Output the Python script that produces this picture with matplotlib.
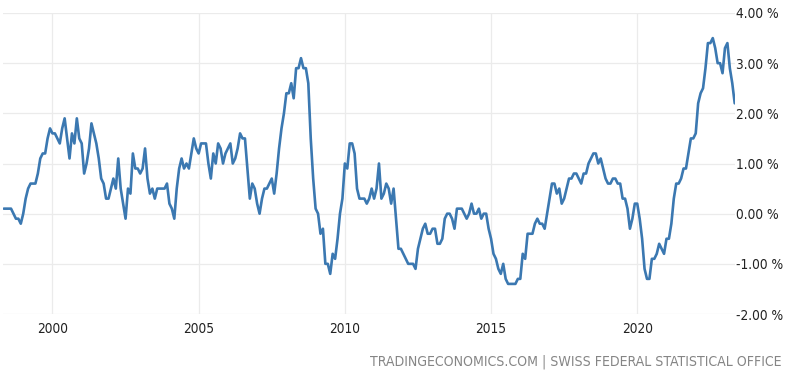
import matplotlib
matplotlib.use("Agg")
import matplotlib.pyplot as plt
from matplotlib import font_manager as fm
import numpy as np

# Swiss CPI inflation rate (YoY, %), monthly, May 1998 .. May 2023
start_year, start_month = 1998, 5
cpi_1998 = [0.1, 0.1, 0.1, 0.1, 0.0, -0.1, -0.1, -0.2]
cpi_1999 = [0.0, 0.3, 0.5, 0.6, 0.6, 0.6, 0.8, 1.1, 1.2, 1.2, 1.5, 1.7]
cpi_2000 = [1.6, 1.6, 1.5, 1.4, 1.7, 1.9, 1.5, 1.1, 1.6, 1.4, 1.9, 1.5]
cpi_2001 = [1.4, 0.8, 1.0, 1.3, 1.8, 1.6, 1.4, 1.1, 0.7, 0.6, 0.3, 0.3]
cpi_2002 = [0.5, 0.7, 0.5, 1.1, 0.5, 0.2, -0.1, 0.5, 0.4, 1.2, 0.9, 0.9]
cpi_2003 = [0.8, 0.9, 1.3, 0.7, 0.4, 0.5, 0.3, 0.5, 0.5, 0.5, 0.5, 0.6]
cpi_2004 = [0.2, 0.1, -0.1, 0.5, 0.9, 1.1, 0.9, 1.0, 0.9, 1.2, 1.5, 1.3]
cpi_2005 = [1.2, 1.4, 1.4, 1.4, 1.0, 0.7, 1.2, 1.0, 1.4, 1.3, 1.0, 1.2]
cpi_2006 = [1.3, 1.4, 1.0, 1.1, 1.3, 1.6, 1.5, 1.5, 0.9, 0.3, 0.6, 0.5]
cpi_2007 = [0.2, 0.0, 0.3, 0.5, 0.5, 0.6, 0.7, 0.4, 0.8, 1.3, 1.7, 2.0]
cpi_2008 = [2.4, 2.4, 2.6, 2.3, 2.9, 2.9, 3.1, 2.9, 2.9, 2.6, 1.5, 0.7]
cpi_2009 = [0.1, 0.0, -0.4, -0.3, -1.0, -1.0, -1.2, -0.8, -0.9, -0.5, 0.0, 0.3]
cpi_2010 = [1.0, 0.9, 1.4, 1.4, 1.2, 0.5, 0.3, 0.3, 0.3, 0.2, 0.3, 0.5]
cpi_2011 = [0.3, 0.5, 1.0, 0.3, 0.4, 0.6, 0.5, 0.2, 0.5, -0.1, -0.7, -0.7]
cpi_2012 = [-0.8, -0.9, -1.0, -1.0, -1.0, -1.1, -0.7, -0.5, -0.3, -0.2, -0.4, -0.4]
cpi_2013 = [-0.3, -0.3, -0.6, -0.6, -0.5, -0.1, 0.0, 0.0, -0.1, -0.3, 0.1, 0.1]
cpi_2014 = [0.1, 0.0, -0.1, 0.0, 0.2, 0.0, 0.0, 0.1, -0.1, 0.0, 0.0, -0.3]
cpi_2015 = [-0.5, -0.8, -0.9, -1.1, -1.2, -1.0, -1.3, -1.4, -1.4, -1.4, -1.4, -1.3]
cpi_2016 = [-1.3, -0.8, -0.9, -0.4, -0.4, -0.4, -0.2, -0.1, -0.2, -0.2, -0.3, 0.0]
cpi_2017 = [0.3, 0.6, 0.6, 0.4, 0.5, 0.2, 0.3, 0.5, 0.7, 0.7, 0.8, 0.8]
cpi_2018 = [0.7, 0.6, 0.8, 0.8, 1.0, 1.1, 1.2, 1.2, 1.0, 1.1, 0.9, 0.7]
cpi_2019 = [0.6, 0.6, 0.7, 0.7, 0.6, 0.6, 0.3, 0.3, 0.1, -0.3, -0.1, 0.2]
cpi_2020 = [0.2, -0.1, -0.5, -1.1, -1.3, -1.3, -0.9, -0.9, -0.8, -0.6, -0.7, -0.8]
cpi_2021 = [-0.5, -0.5, -0.2, 0.3, 0.6, 0.6, 0.7, 0.9, 0.9, 1.2, 1.5, 1.5]
cpi_2022 = [1.6, 2.2, 2.4, 2.5, 2.9, 3.4, 3.4, 3.5, 3.3, 3.0, 3.0, 2.8]
cpi_2023 = [3.3, 3.4, 2.9, 2.6, 2.2]

year_ticks = [2000, 2005, 2010, 2015, 2020]
y_ticks = [-2, -1, 0, 1, 2, 3, 4]
source_text = "TRADINGECONOMICS.COM | SWISS FEDERAL STATISTICAL OFFICE"

values = np.array(cpi_1998 + cpi_1999 + cpi_2000 + cpi_2001 + cpi_2002 + cpi_2003 +
                  cpi_2004 + cpi_2005 + cpi_2006 + cpi_2007 + cpi_2008 + cpi_2009 +
                  cpi_2010 + cpi_2011 + cpi_2012 + cpi_2013 + cpi_2014 + cpi_2015 +
                  cpi_2016 + cpi_2017 + cpi_2018 + cpi_2019 + cpi_2020 + cpi_2021 +
                  cpi_2022 + cpi_2023)
t = start_year + (start_month - 1 + np.arange(len(values))) / 12.0


def pick_font():
    """Choose a condensed sans-serif if one is installed."""
    for fam, stretch in [("Liberation Sans Narrow", "normal"),
                         ("DejaVu Sans", "condensed"),
                         ("Roboto Condensed", "normal"),
                         ("Open Sans", "condensed")]:
        try:
            p = fm.findfont(fm.FontProperties(family=fam, stretch=stretch),
                            fallback_to_default=False)
        except Exception:
            continue
        low = p.lower()
        if "narrow" in low or "condensed" in low:
            return fam, stretch
    return "DejaVu Sans", "normal"


FAM, STRETCH = pick_font()

W, H = 803, 377
fig = plt.figure(figsize=(W / 100, H / 100), dpi=100)
left, right, top, bottom = 3, 735, 13, 314
ax = fig.add_axes([left / W, 1 - bottom / H, (right - left) / W, (bottom - top) / H])

ax.plot(t, values, color="#3b78b1", linewidth=1.9, solid_joinstyle="round",
        solid_capstyle="round", zorder=3)

ax.set_xlim(t[0] - 0.025, t[-1] + 0.01)
ax.set_ylim(-2, 4)

ax.set_xticks(year_ticks)
ax.set_xticklabels([str(y) for y in year_ticks])
ax.set_yticks(y_ticks)
ax.set_yticklabels([f"{v:.2f} %" for v in y_ticks])
ax.yaxis.tick_right()

ax.grid(True, color="#ebebeb", linewidth=0.9, zorder=0)
for s in ax.spines.values():
    s.set_visible(False)
ax.tick_params(axis="both", length=0, colors="#222222")
ax.tick_params(axis="y", pad=1)
ax.tick_params(axis="x", pad=6)

src = fig.text(782 / W, 1 - 362 / H, source_text, ha="right", va="center",
               color="#858585", fontsize=12, family=FAM, stretch=STRETCH)

renderer = fig.canvas.get_renderer()


def fit(txt, target_px, base=12.0):
    txt.set_fontsize(base)
    w = txt.get_window_extent(renderer).width
    txt.set_fontsize(min(base * target_px / w, 15))


fit(src, 412)

probe = fig.text(0, 0, "4.00 %", family=FAM, stretch=STRETCH, fontsize=10)
w4 = probe.get_window_extent(renderer).width
probe.remove()
tick_size = min(10 * 43.0 / w4, 12)
for lab in ax.get_xticklabels() + ax.get_yticklabels():
    lab.set_family(FAM)
    lab.set_stretch(STRETCH)
    lab.set_fontsize(tick_size)

fig.savefig("out.png", dpi=100, facecolor="white")
